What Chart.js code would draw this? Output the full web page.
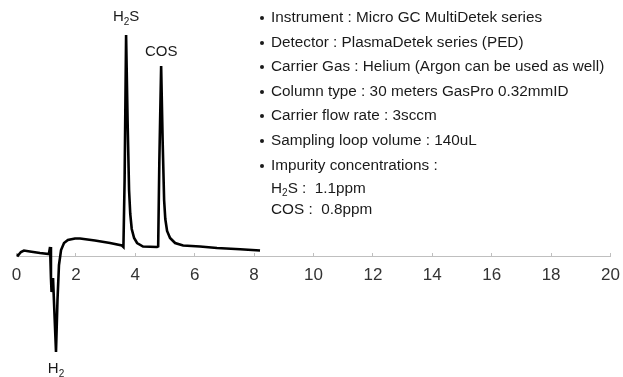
<!DOCTYPE html>
<html>
<head>
<meta charset="utf-8">
<script src="https://cdn.jsdelivr.net/npm/chart.js@4.4.1/dist/chart.umd.min.js"></script>
<style>
  html, body { margin: 0; padding: 0; background: #fff; }
  #wrap { position: relative; width: 623px; height: 377px; overflow: hidden; }
  #chart { position: absolute; left: 0; top: 0; }
  #info {
    position: absolute; left: 271px; top: 5px;
    font-family: "Liberation Sans", Arial, sans-serif; font-size: 15.3px; color: #1a1a1a;
  }
  #info .item { position: relative; height: 24.6px; line-height: 24.6px; white-space: nowrap; }
  #info .item::before {
    content: ""; position: absolute; left: -11px; top: 11px;
    width: 4px; height: 4px; border-radius: 50%; background: #1a1a1a;
  }
  #info .sub { height: 21px; line-height: 21px; white-space: nowrap; }
  #info sub { font-size: 10px; vertical-align: -3px; line-height: 0; }
</style>
</head>
<body>
<div id="wrap">
  <canvas id="chart" width="623" height="377"></canvas>
  <div id="info"></div>
</div>
<script>
// chromatogram trace (retention time in min, detector signal in a.u.)
const retentionTime = [
  0, 0.05, 0.15, 0.25, 0.45, 0.79, 1.09, 1.13, 1.16, 1.18, 1.23, 1.33,
  1.38, 1.43, 1.50, 1.60, 1.73, 1.97, 2.14, 2.64, 3.15, 3.55, 3.60,
  3.64, 3.69, 3.74, 3.79, 3.83, 3.88, 3.96, 4.06, 4.26, 4.73,
  4.77, 4.81, 4.87, 4.92, 4.97, 5.01, 5.07, 5.17, 5.34, 5.61, 6.18, 6.75, 7.53, 8.2
];
const signal = [
  1.5, 0.5, 4, 5.5, 4.5, 3, 2, 9, -22, -36, -22, -96,
  -44, -9, 6, 13, 16, 17.5, 17.5, 15.5, 13, 10.5, 9,
  76, 221, 136, 66, 42, 27, 18, 13, 9.5, 9,
  9.5, 96, 190, 116, 56, 37, 25, 18, 13, 10.5, 9.5, 8, 6.8, 5.5
];

// peaks to label
const peakTimes = [3.69, 4.87, 1.33];
const peakSignals = [221, 190, -96];
const peakNames = [
  [['H', false], ['2', true], ['S', false]],
  [['COS', false]],
  [['H', false], ['2', true]]
];
const peakLabelDy = [-14, -10, 21];

const timeTicks = [0, 2, 4, 6, 8, 10, 12, 14, 16, 18, 20];

const infoLines = [
  'Instrument : Micro GC MultiDetek series',
  'Detector : PlasmaDetek series (PED)',
  'Carrier Gas : Helium (Argon can be used as well)',
  'Column type : 30 meters GasPro 0.32mmID',
  'Carrier flow rate : 3sccm',
  'Sampling loop volume : 140uL',
  'Impurity concentrations :'
];
const concLines = ['H<sub>2</sub>S :&nbsp; 1.1ppm', 'COS :&nbsp; 0.8ppm'];

const info = document.getElementById('info');
infoLines.forEach(t => {
  const d = document.createElement('div');
  d.className = 'item';
  d.textContent = t;
  info.appendChild(d);
});
concLines.forEach(t => {
  const d = document.createElement('div');
  d.className = 'sub';
  d.innerHTML = t;
  info.appendChild(d);
});

const FONT = '"Liberation Sans", Arial, sans-serif';

const peakLabelPlugin = {
  id: 'peakLabels',
  afterDatasetsDraw(chart) {
    const { ctx, scales } = chart;
    ctx.save();
    ctx.fillStyle = '#1a1a1a';
    ctx.textBaseline = 'alphabetic';
    peakNames.forEach((parts, i) => {
      const px = scales.x.getPixelForValue(peakTimes[i]);
      const py = scales.y.getPixelForValue(peakSignals[i]) + peakLabelDy[i];
      let w = 0;
      parts.forEach(([t, sub]) => {
        ctx.font = (sub ? '10px ' : '15px ') + FONT;
        w += ctx.measureText(t).width;
      });
      let x = px - w / 2;
      parts.forEach(([t, sub]) => {
        ctx.font = (sub ? '10px ' : '15px ') + FONT;
        ctx.fillText(t, x, sub ? py + 4 : py);
        x += ctx.measureText(t).width;
      });
    });
    ctx.restore();
  }
};

new Chart(document.getElementById('chart'), {
  type: 'line',
  data: {
    datasets: [{
      data: retentionTime.map((t, i) => ({ x: t, y: signal[i] })),
      borderColor: '#000',
      borderWidth: 2.6,
      pointRadius: 0,
      tension: 0,
      fill: false
    }]
  },
  options: {
    responsive: false,
    animation: false,
    devicePixelRatio: 1,
    layout: { padding: { left: 16.5, right: 12.5, top: 20, bottom: 17 } },
    plugins: { legend: { display: false }, tooltip: { enabled: false } },
    scales: {
      x: {
        type: 'linear',
        position: { y: 0 },
        min: 0,
        max: 20,
        afterBuildTicks: axis => { axis.ticks = timeTicks.map(v => ({ value: v })); },
        afterFit: axis => { axis.paddingLeft = 0; axis.paddingRight = 0; },
        ticks: { font: { family: FONT, size: 17 }, color: '#333', padding: 13, maxRotation: 0 },
        grid: { drawOnChartArea: false, drawTicks: true, tickLength: -4, color: '#bfbfbf' },
        border: { display: true, color: '#bfbfbf', width: 1 }
      },
      y: { display: false, min: -104, max: 236 }
    }
  },
  plugins: [peakLabelPlugin]
});
</script>
</body>
</html>
